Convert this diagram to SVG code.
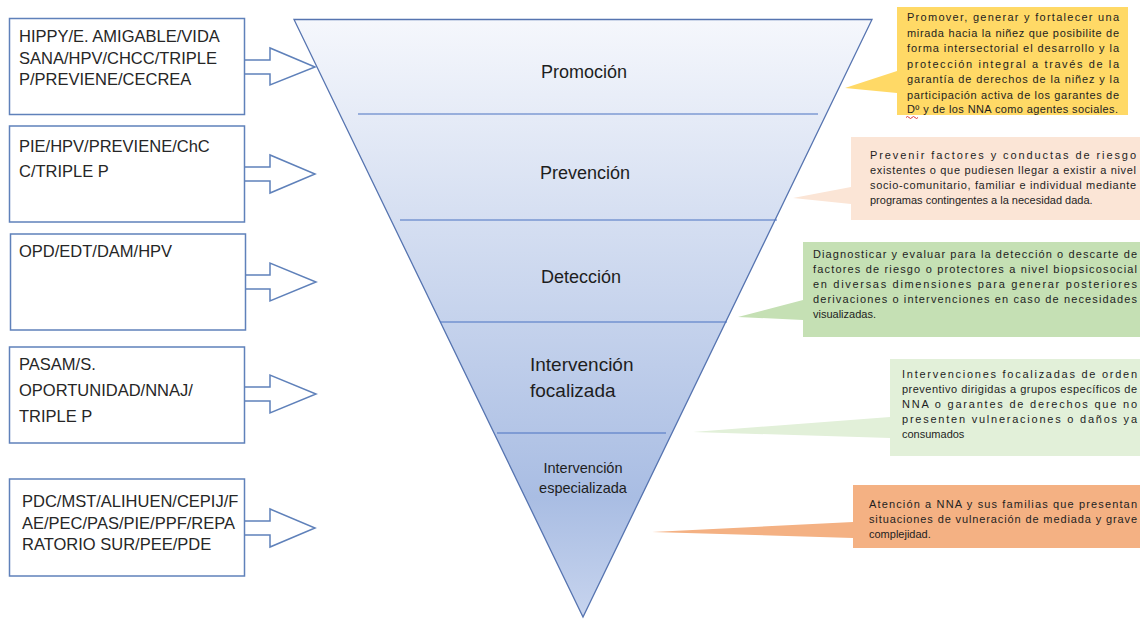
<svg xmlns="http://www.w3.org/2000/svg" width="1140" height="619" viewBox="0 0 1140 619">
  <defs>
    <linearGradient id="funnelGrad" x1="0" y1="0" x2="0" y2="1">
      <stop offset="0" stop-color="#F5F7FC"/>
      <stop offset="0.8" stop-color="#A9BDE3"/>
      <stop offset="1" stop-color="#C7D4EE"/>
    </linearGradient>
    <style>
      .box { fill: #FFFFFF; stroke: #5F81BA; stroke-width: 1.5; }
      .arrow { fill: #FFFFFF; stroke: #5F81BA; stroke-width: 1.5; stroke-linejoin: miter; }
      .btxt { font-family: "Liberation Sans", Arial, sans-serif; font-size: 16.5px; fill: #262626; }
      .lvl { font-family: "Liberation Sans", Arial, sans-serif; fill: #1E1E1E; }
      .div { stroke: #4A72C2; stroke-width: 1.2; }
      .ctxt { font-family: "Liberation Sans", Arial, sans-serif; font-size: 11px; fill: #1E1E1E; }
    </style>
  </defs>
  <rect x="0" y="0" width="1140" height="619" fill="#FFFFFF"/>

  <!-- Funnel -->
  <g id="funnel">
    <polygon points="294,19.5 872,19.5 583,617" fill="url(#funnelGrad)" stroke="#5674B0" stroke-width="1.3"/>
    <line class="div" x1="358" y1="114" x2="818" y2="114"/>
    <line class="div" x1="400" y1="220" x2="777" y2="220"/>
    <line class="div" x1="440" y1="322" x2="727" y2="322"/>
    <line class="div" x1="497" y1="433" x2="666" y2="433"/>
  </g>
  <g id="lvl-promocion"><text class="lvl" x="584" y="78" font-size="18" text-anchor="middle">Promoción</text></g>
  <g id="lvl-prevencion"><text class="lvl" x="585" y="179" font-size="18" text-anchor="middle">Prevención</text></g>
  <g id="lvl-deteccion"><text class="lvl" x="581" y="283" font-size="18" text-anchor="middle">Detección</text></g>
  <g id="lvl-focalizada">
    <text class="lvl" x="530" y="371" font-size="19">Intervención</text>
    <text class="lvl" x="530" y="397" font-size="19">focalizada</text>
  </g>
  <g id="lvl-especializada">
    <text class="lvl" x="583" y="473" font-size="14.5" text-anchor="middle">Intervención</text>
    <text class="lvl" x="583" y="493" font-size="14.5" text-anchor="middle">especializada</text>
  </g>

  <!-- Connectors (block arrows) -->
  <g id="connectors">
    <polyline class="arrow" points="244,60 270,60 270,48 315,67 270,85 270,74 244,74"/>
    <polyline class="arrow" points="244,167 270,167 270,155 315,174 270,193 270,181 244,181"/>
    <polyline class="arrow" points="245,275 270,275 270,263 316,282 270,301 270,289 245,289"/>
    <polyline class="arrow" points="244,387 270,387 270,375 316,394 270,413 270,401 244,401"/>
    <polyline class="arrow" points="244,521 270,521 270,509 315,528 270,547 270,535 244,535"/>
  </g>

  <!-- Left boxes -->
  <g id="box-promocion">
    <rect class="box" x="9.5" y="18.5" width="235" height="96"/>
    <text class="btxt" x="19" y="42">HIPPY/E. AMIGABLE/VIDA</text>
    <text class="btxt" x="19" y="63.5">SANA/HPV/CHCC/TRIPLE</text>
    <text class="btxt" x="19" y="85">P/PREVIENE/CECREA</text>
  </g>
  <g id="box-prevencion">
    <rect class="box" x="9.5" y="126" width="235" height="96"/>
    <text class="btxt" x="19" y="152">PIE/HPV/PREVIENE/ChC</text>
    <text class="btxt" x="19" y="177">C/TRIPLE P</text>
  </g>
  <g id="box-deteccion">
    <rect class="box" x="10.5" y="234" width="235" height="96"/>
    <text class="btxt" x="19" y="257">OPD/EDT/DAM/HPV</text>
  </g>
  <g id="box-focalizada">
    <rect class="box" x="9.5" y="347" width="235" height="96"/>
    <text class="btxt" x="19" y="370">PASAM/S.</text>
    <text class="btxt" x="19" y="396">OPORTUNIDAD/NNAJ/</text>
    <text class="btxt" x="19" y="422">TRIPLE P</text>
  </g>
  <g id="box-especializada">
    <rect class="box" x="9.5" y="479" width="235" height="97"/>
    <text class="btxt" x="22" y="507">PDC/MST/ALIHUEN/CEPIJ/F</text>
    <text class="btxt" x="22" y="528.5">AE/PEC/PAS/PIE/PPF/REPA</text>
    <text class="btxt" x="22" y="550">RATORIO SUR/PEE/PDE</text>
  </g>

  <!-- Callouts -->
  <g id="callout-promocion">
    <path d="M897,7 H1128 V115 H897 V93 L845,88 L897,71 Z" fill="#FFD966"/>
    <text class="ctxt" x="907" y="21" textLength="212" lengthAdjust="spacing">Promover, generar y fortalecer una</text>
    <text class="ctxt" x="907" y="36.5" textLength="212" lengthAdjust="spacing">mirada hacia la niñez que posibilite de</text>
    <text class="ctxt" x="907" y="52" textLength="212" lengthAdjust="spacing">forma intersectorial el desarrollo y la</text>
    <text class="ctxt" x="907" y="67.5" textLength="212" lengthAdjust="spacing">protección integral a través de la</text>
    <text class="ctxt" x="907" y="83" textLength="212" lengthAdjust="spacing">garantía de derechos de la niñez y la</text>
    <text class="ctxt" x="907" y="98.5" textLength="212" lengthAdjust="spacing">participación activa de los garantes de</text>
    <text class="ctxt" x="907" y="113" textLength="211" lengthAdjust="spacing">Dº y de los NNA como agentes sociales.</text>
    <path d="M906,117.5 q1.5,-2 3,0 t3,0 t3,0 t3,0" fill="none" stroke="#E03A3A" stroke-width="1"/>
  </g>
  <g id="callout-prevencion">
    <path d="M851,137 H1160 V220 H851 V204 L793,198 L851,187 Z" fill="#FBE5D6"/>
    <text class="ctxt" x="870" y="159" textLength="266" lengthAdjust="spacing">Prevenir factores y conductas de riesgo</text>
    <text class="ctxt" x="870" y="174" textLength="266" lengthAdjust="spacing">existentes o que pudiesen llegar a existir a nivel</text>
    <text class="ctxt" x="870" y="189" textLength="266" lengthAdjust="spacing">socio-comunitario, familiar e individual mediante</text>
    <text class="ctxt" x="870" y="204">programas contingentes a la necesidad dada.</text>
  </g>
  <g id="callout-deteccion">
    <path d="M803,242 H1160 V337 H803 V320 L738,317 L803,300 Z" fill="#C5E0B4"/>
    <text class="ctxt" x="813" y="258" textLength="324" lengthAdjust="spacing">Diagnosticar y evaluar para la detección o descarte de</text>
    <text class="ctxt" x="813" y="273" textLength="324" lengthAdjust="spacing">factores de riesgo o protectores a nivel biopsicosocial</text>
    <text class="ctxt" x="813" y="288" textLength="324" lengthAdjust="spacing">en diversas dimensiones para generar posteriores</text>
    <text class="ctxt" x="813" y="303" textLength="324" lengthAdjust="spacing">derivaciones o intervenciones en caso de necesidades</text>
    <text class="ctxt" x="813" y="318">visualizadas.</text>
  </g>
  <g id="callout-focalizada">
    <path d="M890,359 H1160 V456 H890 V438 L693,432 L890,417 Z" fill="#E2F0D9"/>
    <text class="ctxt" x="902" y="378" textLength="235" lengthAdjust="spacing">Intervenciones focalizadas de orden</text>
    <text class="ctxt" x="902" y="393" textLength="235" lengthAdjust="spacing">preventivo dirigidas a grupos específicos de</text>
    <text class="ctxt" x="902" y="408" textLength="235" lengthAdjust="spacing">NNA o garantes de derechos que no</text>
    <text class="ctxt" x="902" y="423" textLength="235" lengthAdjust="spacing">presenten vulneraciones o daños ya</text>
    <text class="ctxt" x="902" y="438">consumados</text>
  </g>
  <g id="callout-especializada">
    <path d="M853,485 H1160 V548 H853 V538 L652,532 L853,522 Z" fill="#F4B183"/>
    <text class="ctxt" x="869" y="508" textLength="268" lengthAdjust="spacing">Atención a NNA y sus familias que presentan</text>
    <text class="ctxt" x="869" y="523" textLength="268" lengthAdjust="spacing">situaciones de vulneración de mediada y grave</text>
    <text class="ctxt" x="869" y="538">complejidad.</text>
  </g>
</svg>
